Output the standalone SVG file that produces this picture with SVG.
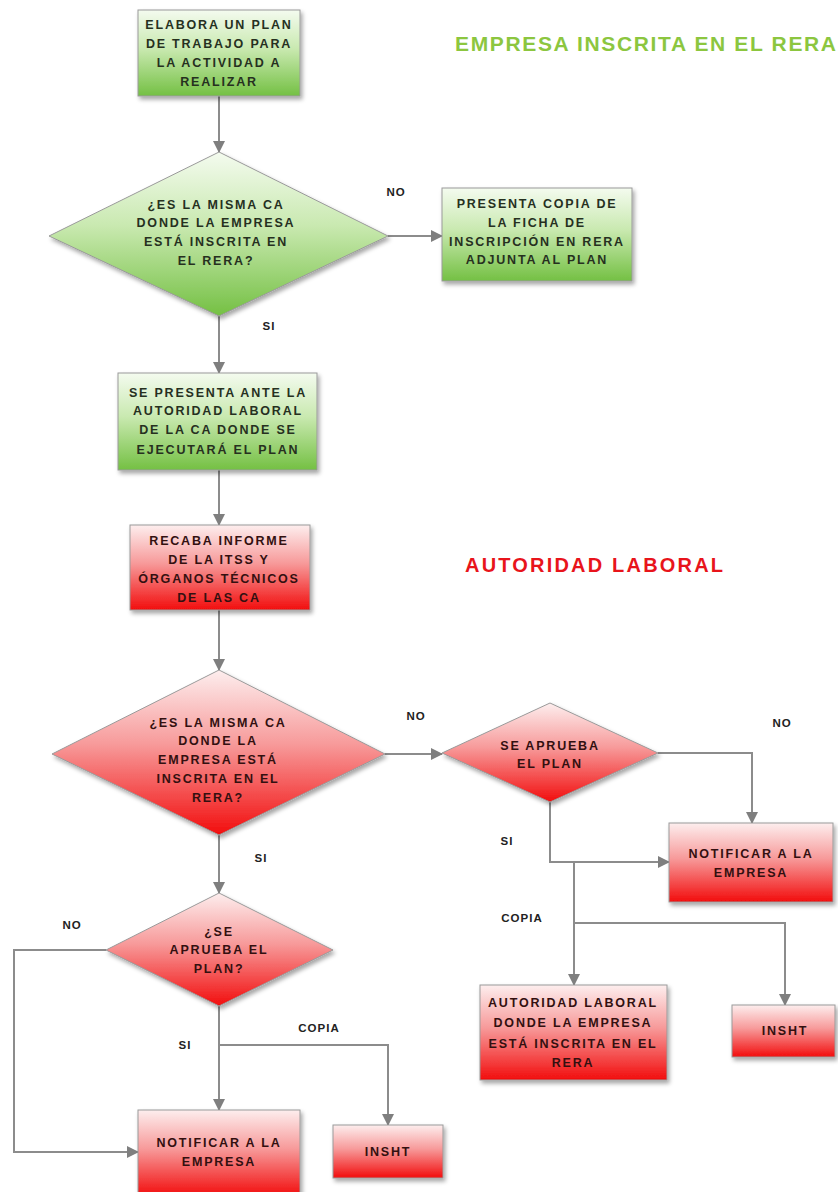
<svg xmlns="http://www.w3.org/2000/svg" width="838" height="1192" viewBox="0 0 838 1192">
  <defs>
    <linearGradient id="gGreen" x1="0" y1="0" x2="0" y2="1">
      <stop offset="0" stop-color="#f4fbef"/>
      <stop offset="0.45" stop-color="#c9e9b0"/>
      <stop offset="1" stop-color="#74c043"/>
    </linearGradient>
    <linearGradient id="gRed" x1="0" y1="0" x2="0" y2="1">
      <stop offset="0" stop-color="#fdeeee"/>
      <stop offset="0.45" stop-color="#f79a9a"/>
      <stop offset="1" stop-color="#f20d0d"/>
    </linearGradient>
    <filter id="shadow" x="-10%" y="-10%" width="125%" height="130%">
      <feDropShadow dx="2" dy="3" stdDeviation="2" flood-color="#000" flood-opacity="0.35"/>
    </filter>
    <marker id="arrow" viewBox="0 0 12 12" refX="11" refY="6" markerWidth="12" markerHeight="12" markerUnits="userSpaceOnUse" orient="auto">
      <path d="M0,0 L12,6 L0,12 z" fill="#7f7f7f"/>
    </marker>
    <style>
      .green { fill: url(#gGreen); stroke: #9a9a9a; stroke-width: 1; filter: url(#shadow); }
      .red { fill: url(#gRed); stroke: #9a9a9a; stroke-width: 1; filter: url(#shadow); }
      .t { font-family: "Liberation Sans", Arial, sans-serif; font-weight: bold; font-size: 12.5px; letter-spacing: 1.8px; text-anchor: middle; }
      .tg { fill: #26301f; }
      .tr { fill: #331010; }
      .lbl { font-family: "Liberation Sans", Arial, sans-serif; font-weight: bold; font-size: 11.5px; letter-spacing: 1px; fill: #222; text-anchor: middle; }
      .conn { fill: none; stroke: #8c8c8c; stroke-width: 2; }
      .title { font-family: "Liberation Sans", Arial, sans-serif; font-weight: bold; }
    </style>
  </defs>
  <rect width="838" height="1192" fill="#ffffff"/>

  <!-- section titles -->
  <text class="title" x="455" y="51" font-size="21" fill="#8cc63f" textLength="381" lengthAdjust="spacing">EMPRESA INSCRITA EN EL RERA</text>
  <text class="title" x="465" y="572" font-size="20" fill="#e8141b" textLength="258" lengthAdjust="spacing">AUTORIDAD LABORAL</text>

  <!-- connectors -->
  <g id="connectors">
    <path class="conn" d="M219,96 L219,152" marker-end="url(#arrow)"/>
    <path class="conn" d="M388,236 L442,236" marker-end="url(#arrow)"/>
    <path class="conn" d="M219,316 L219,373" marker-end="url(#arrow)"/>
    <path class="conn" d="M219,470 L219,525" marker-end="url(#arrow)"/>
    <path class="conn" d="M219,610 L219,670" marker-end="url(#arrow)"/>
    <path class="conn" d="M385,754 L442,754" marker-end="url(#arrow)"/>
    <path class="conn" d="M658,753 L752,753 L752,823" marker-end="url(#arrow)"/>
    <path class="conn" d="M550,802 L550,862 L669,862" marker-end="url(#arrow)"/>
    <path class="conn" d="M574,862 L574,985" marker-end="url(#arrow)"/>
    <path class="conn" d="M574,923 L785,923 L785,1005" marker-end="url(#arrow)"/>
    <path class="conn" d="M219,835 L219,893" marker-end="url(#arrow)"/>
    <path class="conn" d="M106,950 L14,950 L14,1152 L138,1152" marker-end="url(#arrow)"/>
    <path class="conn" d="M219,1006 L219,1110" marker-end="url(#arrow)"/>
    <path class="conn" d="M219,1045 L388,1045 L388,1125" marker-end="url(#arrow)"/>
  </g>

  <!-- connector labels -->
  <g id="labels">
    <text class="lbl" x="396" y="196">NO</text>
    <text class="lbl" x="269" y="330">SI</text>
    <text class="lbl" x="416" y="720">NO</text>
    <text class="lbl" x="261" y="862">SI</text>
    <text class="lbl" x="782" y="727">NO</text>
    <text class="lbl" x="507" y="845">SI</text>
    <text class="lbl" x="522" y="922">COPIA</text>
    <text class="lbl" x="72" y="929">NO</text>
    <text class="lbl" x="185" y="1049">SI</text>
    <text class="lbl" x="319" y="1032">COPIA</text>
  </g>

  <g id="n1">
    <rect class="green" x="138" y="10" width="162" height="86"/>
    <text class="t tg" x="219"><tspan x="219" y="29">ELABORA UN PLAN</tspan><tspan x="219" y="48">DE TRABAJO PARA</tspan><tspan x="219" y="67">LA ACTIVIDAD A</tspan><tspan x="219" y="86">REALIZAR</tspan></text>
  </g>

  <g id="n2">
    <polygon class="green" points="219,152 388,236 219,316 49,236"/>
    <text class="t tg" x="216"><tspan x="216" y="209">¿ES LA MISMA CA</tspan><tspan x="216" y="227">DONDE LA EMPRESA</tspan><tspan x="216" y="246">ESTÁ INSCRITA EN</tspan><tspan x="216" y="265">EL RERA?</tspan></text>
  </g>

  <g id="n3">
    <rect class="green" x="442" y="188" width="190" height="93"/>
    <text class="t tg" x="537"><tspan x="537" y="208">PRESENTA COPIA DE</tspan><tspan x="537" y="227">LA FICHA DE</tspan><tspan x="537" y="246">INSCRIPCIÓN EN RERA</tspan><tspan x="537" y="264">ADJUNTA AL PLAN</tspan></text>
  </g>

  <g id="n4">
    <rect class="green" x="118" y="373" width="199" height="97"/>
    <text class="t tg" x="218"><tspan x="218" y="397">SE PRESENTA ANTE LA</tspan><tspan x="218" y="415">AUTORIDAD LABORAL</tspan><tspan x="218" y="434">DE LA CA DONDE SE</tspan><tspan x="218" y="454">EJECUTARÁ EL PLAN</tspan></text>
  </g>

  <g id="n5">
    <rect class="red" x="130" y="525" width="180" height="85"/>
    <text class="t tr" x="219"><tspan x="219" y="545">RECABA INFORME</tspan><tspan x="219" y="564">DE LA ITSS Y</tspan><tspan x="219" y="583">ÓRGANOS TÉCNICOS</tspan><tspan x="219" y="602">DE LAS CA</tspan></text>
  </g>

  <g id="n6">
    <polygon class="red" points="219,670 385,754 219,835 52,754"/>
    <text class="t tr" x="218"><tspan x="218" y="727">¿ES LA MISMA CA</tspan><tspan x="218" y="745">DONDE LA</tspan><tspan x="218" y="764">EMPRESA ESTÁ</tspan><tspan x="218" y="783">INSCRITA EN EL</tspan><tspan x="218" y="802">RERA?</tspan></text>
  </g>

  <g id="n7">
    <polygon class="red" points="550,703 658,753 550,802 442,753"/>
    <text class="t tr" x="550"><tspan x="550" y="750">SE APRUEBA</tspan><tspan x="550" y="768">EL PLAN</tspan></text>
  </g>

  <g id="n8">
    <rect class="red" x="669" y="823" width="164" height="79"/>
    <text class="t tr" x="751"><tspan x="751" y="858">NOTIFICAR A LA</tspan><tspan x="751" y="877">EMPRESA</tspan></text>
  </g>

  <g id="n9">
    <rect class="red" x="480" y="985" width="187" height="95"/>
    <text class="t tr" x="573"><tspan x="573" y="1007">AUTORIDAD LABORAL</tspan><tspan x="573" y="1027">DONDE LA EMPRESA</tspan><tspan x="573" y="1048">ESTÁ INSCRITA EN EL</tspan><tspan x="573" y="1067">RERA</tspan></text>
  </g>

  <g id="n10">
    <rect class="red" x="732" y="1005" width="103" height="52"/>
    <text class="t tr" x="785" y="1035">INSHT</text>
  </g>

  <g id="n11">
    <polygon class="red" points="219,893 333,950 219,1006 106,950"/>
    <text class="t tr" x="219"><tspan x="219" y="936">¿SE</tspan><tspan x="219" y="954">APRUEBA EL</tspan><tspan x="219" y="973">PLAN?</tspan></text>
  </g>

  <g id="n12">
    <rect class="red" x="138" y="1110" width="162" height="86"/>
    <text class="t tr" x="219"><tspan x="219" y="1147">NOTIFICAR A LA</tspan><tspan x="219" y="1166">EMPRESA</tspan></text>
  </g>

  <g id="n13">
    <rect class="red" x="333" y="1125" width="110" height="53"/>
    <text class="t tr" x="388" y="1156">INSHT</text>
  </g>
</svg>
